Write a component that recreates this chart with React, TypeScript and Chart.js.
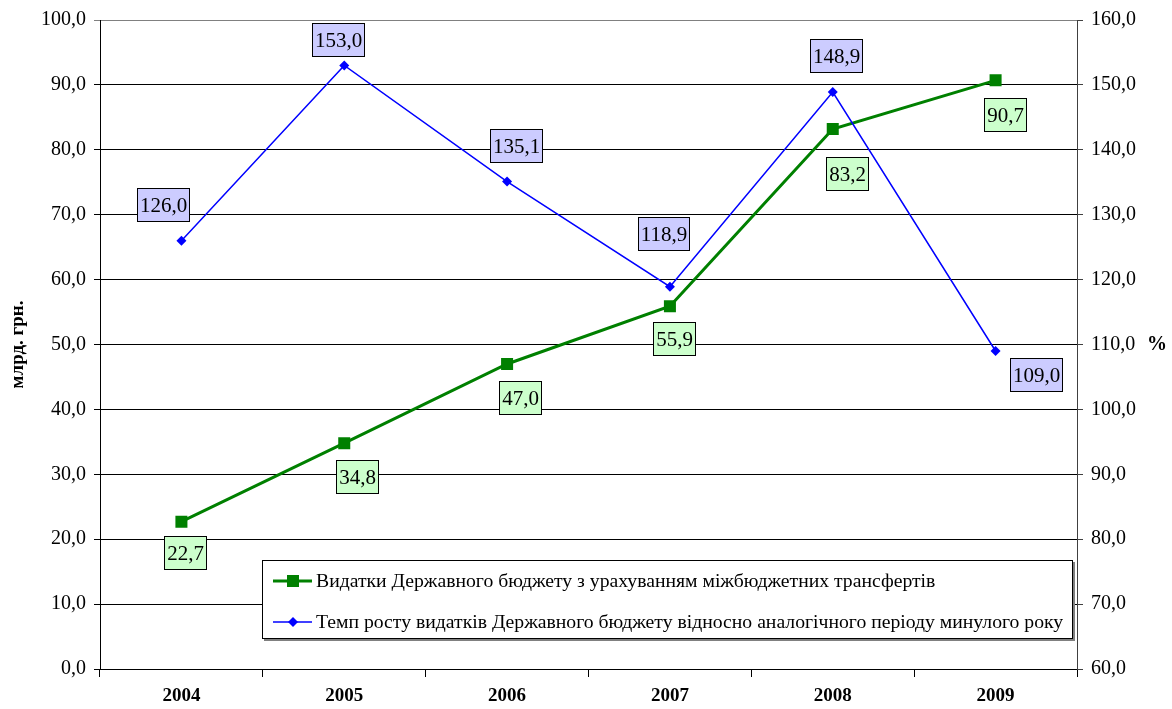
import React, { useEffect, useRef } from 'react';
import { Chart, registerables } from 'chart.js';

Chart.register(...registerables);

const categories = ['2004', '2005', '2006', '2007', '2008', '2009'];
const spending = [22.7, 34.8, 47.0, 55.9, 83.2, 90.7];
const growth = [126.0, 153.0, 135.1, 118.9, 148.9, 109.0];
const seriesNames = [
  'Видатки Державного бюджету з урахуванням міжбюджетних трансфертів',
  'Темп росту видатків Державного бюджету відносно аналогічного періоду минулого року',
];
const leftTitle = 'млрд. грн.';
const rightTitle = '%';

// style: label box offsets (px) relative to each point
const greenLabelOffsets = [[4, 31], [13, 33], [13, 34], [4, 32], [14, 44], [9, 34]];
const blueLabelOffsets = [[-18, -36], [-6, -26], [9, -36], [-6, -53], [3, -37], [40, 24]];

const FONT = '"Liberation Serif", "Times New Roman", serif';
const GREEN = '#008000';
const BLUE = '#0000FF';

const fmt = (v: number) => v.toFixed(1).replace('.', ',');

function drawBox(ctx: CanvasRenderingContext2D, cx: number, cy: number, text: string, fill: string) {
  ctx.font = `21px ${FONT}`;
  const tw = ctx.measureText(text).width;
  const w = Math.round(tw + 5);
  const h = 33;
  const x = Math.round(cx - w / 2);
  const y = Math.round(cy - h / 2);
  ctx.fillStyle = fill;
  ctx.fillRect(x, y, w, h);
  ctx.strokeStyle = '#000';
  ctx.lineWidth = 1;
  ctx.strokeRect(x + 0.5, y + 0.5, w, h);
  ctx.fillStyle = '#000';
  ctx.textAlign = 'center';
  ctx.textBaseline = 'middle';
  ctx.fillText(text, x + w / 2 + 0.5, y + h / 2 + 1.5);
}

const overlay = {
  id: 'overlay',
  afterDatasetsDraw(chart: any) {
    const ctx: CanvasRenderingContext2D = chart.ctx;
    ctx.save();
    const gMeta = chart.getDatasetMeta(0);
    const bMeta = chart.getDatasetMeta(1);
    spending.forEach((v, i) => {
      const p = gMeta.data[i];
      const o = greenLabelOffsets[i];
      drawBox(ctx, p.x + o[0], p.y + o[1], fmt(v), '#CCFFCC');
    });
    growth.forEach((v, i) => {
      const p = bMeta.data[i];
      const o = blueLabelOffsets[i];
      drawBox(ctx, p.x + o[0], p.y + o[1], fmt(v), '#CCCCFF');
    });
    ctx.restore();
  },
  afterDraw(chart: any) {
    const ctx: CanvasRenderingContext2D = chart.ctx;
    const area = chart.chartArea;
    ctx.save();
    // legend box
    const lx = 262, ly = 560, lw = 811, lh = 79;
    ctx.fillStyle = '#808080';
    ctx.fillRect(lx + 2, ly + 2, lw, lh);
    ctx.fillStyle = '#fff';
    ctx.fillRect(lx, ly, lw, lh);
    ctx.strokeStyle = '#000';
    ctx.lineWidth = 1;
    ctx.strokeRect(lx + 0.5, ly + 0.5, lw - 1, lh - 1);
    const rows = [ly + 21, ly + 62];
    // row 1 green
    ctx.strokeStyle = GREEN;
    ctx.lineWidth = 3;
    ctx.beginPath();
    ctx.moveTo(273, rows[0]);
    ctx.lineTo(312, rows[0]);
    ctx.stroke();
    ctx.fillStyle = GREEN;
    ctx.fillRect(293 - 6, rows[0] - 6, 12, 12);
    // row 2 blue
    ctx.strokeStyle = BLUE;
    ctx.lineWidth = 1.5;
    ctx.beginPath();
    ctx.moveTo(273, rows[1]);
    ctx.lineTo(312, rows[1]);
    ctx.stroke();
    ctx.fillStyle = BLUE;
    ctx.beginPath();
    ctx.moveTo(293, rows[1] - 5);
    ctx.lineTo(298, rows[1]);
    ctx.lineTo(293, rows[1] + 5);
    ctx.lineTo(288, rows[1]);
    ctx.closePath();
    ctx.fill();
    ctx.fillStyle = '#000';
    ctx.font = `19.7px ${FONT}`;
    ctx.textAlign = 'left';
    ctx.textBaseline = 'middle';
    ctx.fillText(seriesNames[0], 316, rows[0] + 1);
    ctx.fillText(seriesNames[1], 316, rows[1] + 1);

    // axis titles
    const midY = (area.top + area.bottom) / 2;
    ctx.font = `bold 19px ${FONT}`;
    ctx.textAlign = 'center';
    ctx.textBaseline = 'middle';
    ctx.save();
    ctx.translate(18, midY);
    ctx.rotate(-Math.PI / 2);
    ctx.fillText(leftTitle, 0, 0);
    ctx.restore();
    ctx.font = `bold 20px ${FONT}`;
    ctx.fillText(rightTitle, 1157, midY);
    ctx.restore();
  },
};

export default function App() {
  const ref = useRef<HTMLCanvasElement | null>(null);
  useEffect(() => {
    if (!ref.current) return;
    const chart = new Chart(ref.current, {
      type: 'line',
      data: {
        labels: categories,
        datasets: [
          {
            label: seriesNames[0],
            data: spending,
            yAxisID: 'y',
            borderColor: GREEN,
            backgroundColor: GREEN,
            borderWidth: 3,
            pointStyle: 'rect',
            pointRadius: 8.5,
            pointBorderWidth: 0,
            pointBackgroundColor: GREEN,
            tension: 0,
            order: 2,
          },
          {
            label: seriesNames[1],
            data: growth,
            yAxisID: 'y1',
            borderColor: BLUE,
            backgroundColor: BLUE,
            borderWidth: 1.5,
            pointStyle: 'rectRot',
            pointRadius: 5,
            pointBorderWidth: 0,
            pointBackgroundColor: BLUE,
            tension: 0,
            order: 1,
          },
        ],
      },
      options: {
        responsive: false,
        animation: false,
        events: [],
        layout: { padding: { top: 20, left: 0, right: 0, bottom: 0 } },
        plugins: {
          legend: { display: false },
          tooltip: { enabled: false },
          title: { display: false },
        },
        scales: {
          x: {
            offset: true,
            grid: {
              offset: true,
              drawOnChartArea: false,
              drawTicks: true,
              tickLength: 8,
              color: '#000',
            },
            border: { display: true, color: '#000', width: 1 },
            ticks: {
              color: '#000',
              font: { family: FONT, size: 19, weight: 'bold' },
              padding: 8,
              maxRotation: 0,
            },
            afterFit: (s: any) => { s.height = 40; },
          },
          y: {
            position: 'left',
            min: 0,
            max: 100,
            ticks: {
              stepSize: 10,
              color: '#000',
              font: { family: FONT, size: 20 },
              padding: 8,
              callback: (v: any) => fmt(Number(v)),
            },
            grid: {
              color: (c: any) => (c.tick && c.tick.value === 100 ? '#808080' : '#000'),
              lineWidth: 1,
              tickLength: 6,
            },
            border: { display: true, color: '#000', width: 1 },
            afterFit: (s: any) => { s.width = 100; },
          },
          y1: {
            position: 'right',
            min: 60,
            max: 160,
            ticks: {
              stepSize: 10,
              color: '#000',
              font: { family: FONT, size: 20 },
              padding: 8,
              callback: (v: any) => fmt(Number(v)),
            },
            grid: {
              drawOnChartArea: false,
              color: '#404040',
              tickLength: 6,
            },
            border: { display: true, color: '#404040', width: 1 },
            afterFit: (s: any) => { s.width = 95; },
          },
        },
      },
      plugins: [overlay],
    } as any);
    return () => chart.destroy();
  }, []);
  return (
    <div style={{ position: 'fixed', left: 0, top: 0, width: 1172, height: 709, background: '#fff' }}>
      <canvas ref={ref} width={1172} height={709} style={{ display: 'block' }} />
    </div>
  );
}
